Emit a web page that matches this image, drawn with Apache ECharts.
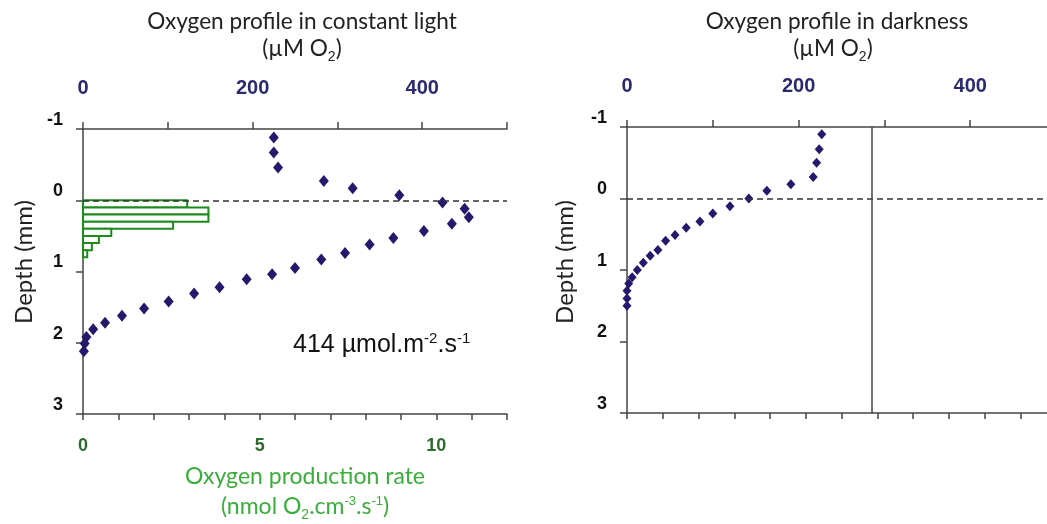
<!DOCTYPE html>
<html><head><meta charset="utf-8">
<script src="https://cdn.jsdelivr.net/npm/echarts@6/dist/echarts.min.js"></script>
<style>html,body{margin:0;padding:0;background:#fff;overflow:hidden}#c{width:1060px;height:524px}</style>
</head><body><div id="c"></div>
<script>
// Oxygen profile in constant light (µM O2 vs depth mm)
const lightO2 = [225,225,230,284,318,373,424,450,455,435,402,366,338,309,281,250,223,193,161,131,101,72,46,26,12,4,2,1];
const lightDepth = [-0.88,-0.67,-0.46,-0.27,-0.17,-0.07,0.03,0.12,0.24,0.33,0.43,0.53,0.62,0.74,0.83,0.95,1.04,1.11,1.22,1.31,1.42,1.52,1.62,1.72,1.81,1.92,2.01,2.12];
// Oxygen profile in darkness
const darkO2 = [227,224,221,217,191,163,142,120,100,85,69,56,45,36,27,19,12,6,2,0,0,0];
const darkDepth = [-0.90,-0.69,-0.50,-0.30,-0.20,-0.11,0.00,0.11,0.21,0.32,0.41,0.51,0.59,0.72,0.80,0.90,1.00,1.10,1.19,1.29,1.40,1.50];
// Oxygen production rate (nmol O2 cm-3 s-1) per depth layer
const rateDepthTop = [0.0,0.1,0.2,0.3,0.4,0.5,0.6,0.7];
const rateDepthBottom = [0.1,0.2,0.3,0.4,0.5,0.6,0.7,0.8];
const rateValues = [2.95,3.55,3.55,2.55,0.8,0.45,0.25,0.12];
// Tick labels
const depthTicks = [-1,0,1,2,3];
const o2Ticks = [0,200,400];
const rateTicks = [0,5,10];
// Air saturation reference line in darkness plot
const saturationO2 = 285;

const NAVY = '#26186c';
const AXIS = '#444';
const TITLEF = 'Lato, "Open Sans", sans-serif';
const ARIAL = '"Liberation Sans", Arial, sans-serif';

const chart = echarts.init(document.getElementById('c'));

function depthAxis(gridIndex) {
  return {
    type: 'value', gridIndex, min: -1, max: 3, interval: 1, inverse: true,
    axisLine: { show: true, onZero: false, lineStyle: { color: AXIS, width: 1.5 } },
    axisTick: { show: true, length: 7, lineStyle: { color: AXIS, width: 1.5 } },
    splitLine: { show: false },
    axisLabel: {
      margin: 20, verticalAlign: 'bottom', color: '#111', fontFamily: ARIAL, fontWeight: 'bold', fontSize: 18,
      formatter: v => depthTicks.includes(v) ? String(v) : ''
    }
  };
}
function o2Axis(gridIndex) {
  return {
    type: 'value', gridIndex, position: 'top', min: 0, max: 500, interval: 100,
    axisLine: { show: true, onZero: false, lineStyle: { color: AXIS, width: 1.5 } },
    axisTick: { show: true, length: 7, lineStyle: { color: AXIS, width: 1.5 } },
    splitLine: { show: false },
    axisLabel: {
      margin: 31, color: '#2b2a6e', fontFamily: ARIAL, fontWeight: 'bold', fontSize: 20,
      formatter: v => o2Ticks.includes(v) ? String(v) : ''
    }
  };
}
function rateAxis(gridIndex, showLabels) {
  return {
    type: 'value', gridIndex, position: 'bottom', min: 0, max: 12, interval: 1,
    axisLine: { show: true, onZero: false, lineStyle: { color: AXIS, width: 1.5 } },
    axisTick: { show: true, length: 6, lineStyle: { color: AXIS, width: 1.5 } },
    splitLine: { show: false },
    axisLabel: {
      show: showLabels, margin: 23, color: '#2f6a2f', fontFamily: ARIAL, fontWeight: 'bold', fontSize: 18,
      formatter: v => rateTicks.includes(v) ? String(v) : ''
    }
  };
}

const dashed = { type: [6, 4], color: '#333', width: 1.5 };

const rich = {
  sub: { fontSize: 14, padding: [16, 0, 0, 0] },
  sup: { fontSize: 13, padding: [0, 0, 11, 0] }
};
function txt(x, y, text, opts) {
  return Object.assign({
    type: 'text', x, y, silent: true,
    style: Object.assign({ text, align: 'center', verticalAlign: 'middle', fill: '#222', fontFamily: TITLEF, fontSize: 22.6, rich }, opts || {})
  });
}

const option = {
  animation: false,
  backgroundColor: '#fff',
  grid: [
    { left: 83, top: 129, width: 424, height: 285 },
    { left: 627, top: 127, width: 429, height: 286 }
  ],
  xAxis: [o2Axis(0), rateAxis(0, true), o2Axis(1), rateAxis(1, false)],
  yAxis: [depthAxis(0), depthAxis(1)],
  series: [
    {
      type: 'custom', xAxisIndex: 1, yAxisIndex: 0, z: 2,
      data: rateValues.map((v, i) => [rateDepthTop[i], rateDepthBottom[i], v]),
      encode: { x: 2, y: [0, 1] },
      renderItem: (params, api) => {
        const p0 = api.coord([0, api.value(0)]);
        const p1 = api.coord([api.value(2), api.value(1)]);
        return { type: 'rect', shape: { x: p0[0], y: p0[1], width: p1[0] - p0[0], height: p1[1] - p0[1] },
          style: { fill: '#fff', stroke: '#1e8a1e', lineWidth: 2 } };
      }
    },
    {
      type: 'scatter', xAxisIndex: 0, yAxisIndex: 0, z: 3,
      symbol: 'diamond', symbolSize: [10, 12], itemStyle: { color: NAVY, opacity: 1 },
      data: lightO2.map((v, i) => [v, lightDepth[i]]),
      markLine: { silent: true, symbol: 'none', label: { show: false }, lineStyle: dashed, data: [{ yAxis: 0 }] }
    },
    {
      type: 'scatter', xAxisIndex: 2, yAxisIndex: 1, z: 3,
      symbol: 'diamond', symbolSize: [9, 10], itemStyle: { color: NAVY, opacity: 1 },
      data: darkO2.map((v, i) => [v, darkDepth[i]]),
      markLine: { silent: true, symbol: 'none', label: { show: false }, lineStyle: dashed,
        data: [{ yAxis: 0 }, { xAxis: saturationO2, lineStyle: { type: 'solid', color: '#444', width: 1.5 } }] }
    }
  ],
  graphic: [
    txt(302, 22, 'Oxygen profile in constant light'),
    txt(302, 49, '(µM O{sub|2})'),
    txt(837, 22, 'Oxygen profile in darkness'),
    txt(833, 49, '(µM O{sub|2})'),
    txt(305, 477, 'Oxygen production rate', { fill: '#3aae3a', fontSize: 23 }),
    txt(305, 507, '(nmol O{sub|2}.cm{sup|-3}.s{sup|-1})', { fill: '#3aae3a', fontSize: 23 }),
    Object.assign(txt(24, 262, 'Depth (mm)', { fontSize: 24 }), { rotation: Math.PI / 2 }),
    Object.assign(txt(565, 262, 'Depth (mm)', { fontSize: 24 }), { rotation: Math.PI / 2 }),
    txt(293, 345, '414 µmol.m{sup|-2}.s{sup|-1}', { align: 'left', fill: '#111', fontFamily: ARIAL, fontSize: 25,
      rich: { sup: { fontSize: 15, padding: [0, 0, 12, 0] } } })
  ]
};
chart.setOption(option);
</script></body></html>
